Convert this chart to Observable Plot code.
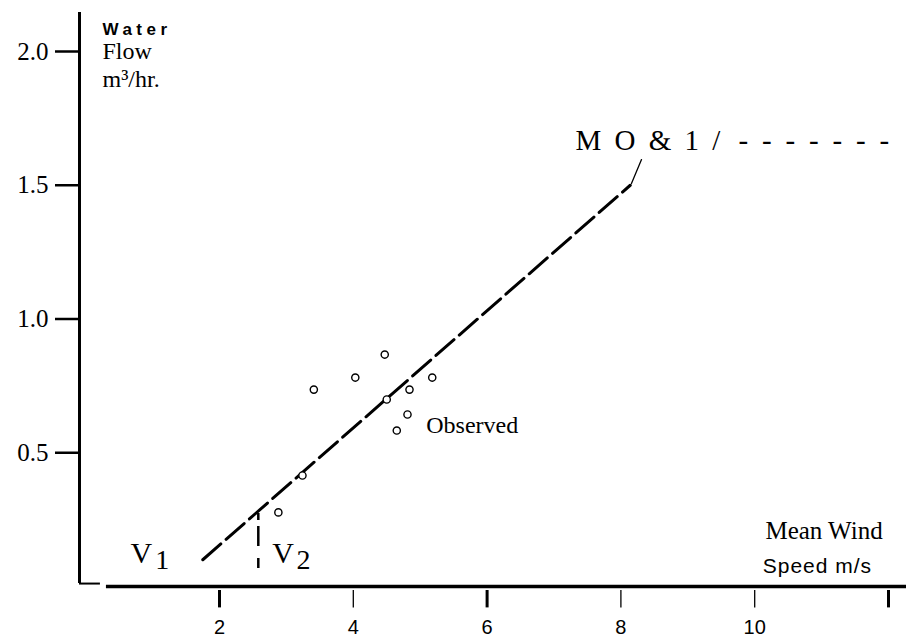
<!DOCTYPE html>
<html><head><meta charset="utf-8">
<script src="https://cdn.jsdelivr.net/npm/d3@7"></script>
<script src="https://cdn.jsdelivr.net/npm/@observablehq/plot@0.6"></script>
<style>body{margin:0;background:#fff} svg{display:block}</style>
</head><body><div id="chart"></div>
<script>
// Observed points (mean wind speed m/s, water flow m3/hr)
const obsSpeed = [3.41, 4.03, 4.47, 4.84, 5.18, 4.50, 4.81, 4.65, 3.24, 2.88];
const obsFlow  = [0.736, 0.781, 0.867, 0.736, 0.781, 0.699, 0.643, 0.583, 0.415, 0.277];
// Model (M O & 1) straight line
const modelSpeed = [1.75, 8.14];
const modelFlow  = [0.10, 1.50];
// Threshold speed V2
const v2Speed = 2.58;
const v2Flow = [0.273, 0.06];
// Ticks
const yTicks = [0.5, 1.0, 1.5, 2.0];
const xTicksBold = [2, 6, 12];
const xTicksThin = [4, 8, 10];
const xTickLabels = [2, 4, 6, 8, 10];
// Axis frame extents (data units)
const yAxisAt = -0.0927, yAxisTop = 2.146, yAxisBottom = 0.011, yFootEnd = 0.22;
const xAxisStart = 0.31, xAxisEnd = 12.27;
const xTickTop = -0.015, xTickBottom = -0.08, xLabelY = -0.179;
// Annotations
const vText = ["V", "V"];
const vX = [0.67, 2.79];
const vY = [0.0897, 0.0897];
const subText = ["1", "2"];
const subX = [1.04, 3.15];
const subY = [0.067, 0.067];
const modelLabel = "M O & 1 /";
const modelLabelX = 7.32, modelLabelY = 1.63;
const dashLabel = "- - - - - - -";
const dashLabelX = 9.758;
const leaderSpeed = [8.158, 8.308];
const leaderFlow  = [1.5065, 1.596];

const serif = "'Liberation Serif','Times New Roman',serif";
const sans = "'Liberation Sans',Arial,sans-serif";

const modelPts = modelSpeed.map((s, i) => [s, modelFlow[i]]);
const leaderPts = leaderSpeed.map((s, i) => [s, leaderFlow[i]]);
const obsPts = obsSpeed.map((s, i) => [s, obsFlow[i]]);
const vLabels = vText.map((t, i) => ({t, x: vX[i], y: vY[i]}));
const subLabels = subText.map((t, i) => ({t, x: subX[i], y: subY[i]}));

const chart = Plot.plot({
  width: 906, height: 644,
  marginLeft: 79, marginRight: 18, marginTop: 51, marginBottom: 58,
  x: {domain: [yAxisAt, 12], axis: null},
  y: {domain: [0, 2]},
  style: {background: "white", color: "black", overflow: "visible"},
  marks: [
    Plot.axisY(yTicks, {tickSize: 24, tickPadding: 7, tickFormat: d => d.toFixed(1), fontSize: 25, fontFamily: serif, strokeWidth: 2.5, label: null}),
    Plot.ruleX([yAxisAt], {y1: yAxisBottom, y2: yAxisTop, strokeWidth: 3}),
    Plot.ruleY([yAxisBottom], {x1: yAxisAt, x2: yFootEnd, strokeWidth: 2}),
    Plot.ruleY([0], {x1: xAxisStart, x2: xAxisEnd, strokeWidth: 3.5}),
    Plot.ruleX(xTicksBold, {y1: xTickTop, y2: xTickBottom, strokeWidth: 3}),
    Plot.ruleX(xTicksThin, {y1: xTickTop, y2: xTickBottom, strokeWidth: 1.3}),
    Plot.text(xTickLabels, {x: d => d, y: xLabelY, text: d => String(d), fontSize: 20, fontFamily: sans, lineAnchor: "bottom"}),
    Plot.line(modelPts, {strokeWidth: 3, strokeDasharray: "24,7"}),
    Plot.ruleX([v2Speed], {y1: v2Flow[0], y2: v2Flow[1], strokeWidth: 2.5, strokeDasharray: "7,6,20,12,10"}),
    Plot.line(leaderPts, {strokeWidth: 1.3}),
    Plot.dot(obsPts, {r: 3.6, stroke: "black", fill: "white", strokeWidth: 1.4}),
    Plot.text(vLabels, {x: "x", y: "y", text: "t", fontSize: 30, fontFamily: serif, textAnchor: "start", lineAnchor: "bottom"}),
    Plot.text(subLabels, {x: "x", y: "y", text: "t", fontSize: 28, fontFamily: serif, textAnchor: "start", lineAnchor: "bottom"}),
    Plot.text([modelLabel], {x: modelLabelX, y: modelLabelY, text: d => d, fontSize: 29, fontFamily: serif, textAnchor: "start", lineAnchor: "bottom"}),
    Plot.text([dashLabel], {x: dashLabelX, y: modelLabelY, text: d => d, fontSize: 29, fontFamily: serif, textAnchor: "start", lineAnchor: "bottom"}),
    Plot.text(["Observed"], {x: 5.09, y: 0.572, text: d => d, fontSize: 24, fontFamily: serif, textAnchor: "start", lineAnchor: "bottom"}),
    Plot.text(["Mean Wind"], {x: 10.16, y: 0.179, text: d => d, fontSize: 25, fontFamily: serif, textAnchor: "start", lineAnchor: "bottom"}),
    Plot.text(["Speed m/s"], {x: 10.12, y: 0.0486, text: d => d, fontSize: 21, fontFamily: sans, textAnchor: "start", lineAnchor: "bottom"}),
    Plot.text(["Water"], {x: 0.251, y: 2.060, text: d => d, fontSize: 17, fontWeight: "bold", fontFamily: sans, textAnchor: "start", lineAnchor: "bottom"}),
    Plot.text(["Flow\nm³/hr."], {x: 0.251, y: 1.869, text: d => d, fontSize: 24, lineHeight: 1.15, fontFamily: serif, textAnchor: "start", lineAnchor: "bottom"})
  ]
});

const spacing = {"Water": 4.5, "Speed m/s": 1, [modelLabel]: 3, [dashLabel]: 3.3};
d3.select(chart).selectAll("text").each(function () {
  const s = spacing[this.textContent];
  if (s) this.setAttribute("letter-spacing", s);
});
document.getElementById("chart").appendChild(chart);
</script>
</body></html>
